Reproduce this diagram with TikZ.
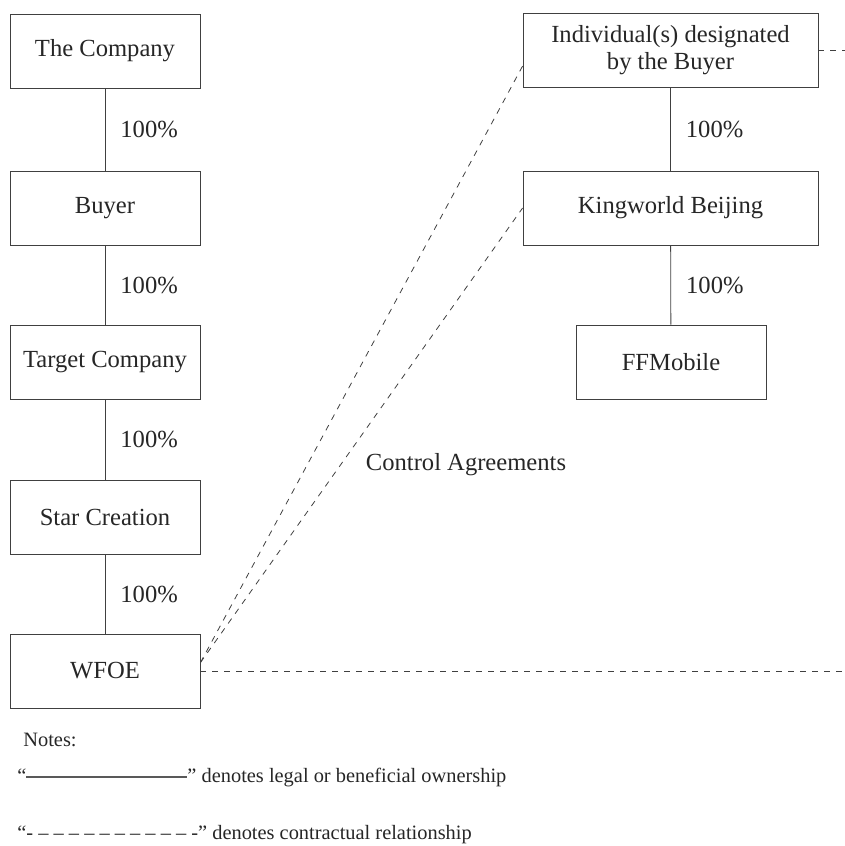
\documentclass[tikz,border=0pt]{standalone}
\usepackage{fontspec}
\setmainfont{Liberation Serif}
\def\boxwd{95pt}
\def\boxht{37pt}
\usepackage{tikz}

\begin{document}
\begin{tikzpicture}[x=0.5pt,y=-0.5pt,draw=black!75,text=black!85]
            \tikzstyle{entity}=[draw,minimum width=\boxwd,minimum height=\boxht,inner sep=0pt,align=center,font=\fontsize{12.3}{13.6}\selectfont]
            \tikzstyle{share}=[anchor=west,inner sep=0pt,xshift=7.5pt,font=\fontsize{12.3}{13.6}\selectfont]
            \tikzstyle{contract}=[dashed]
            \tikzstyle{note}=[anchor=west,inner sep=0pt,font=\fontsize{10.2}{12}\selectfont]

            \useasboundingbox (0,0) rectangle (845,846);

            % Draw the left column of companies
            \foreach \name / \txt / \y in {Co/The Company/51, Buyer/Buyer/208, Target/Target Company/362, Star/Star Creation/517, WFOE/WFOE/671}
                \node[entity] (\name) at (105,\y) {\txt};

            % Draw the right column
            \node[entity, minimum width=147.5pt] (Ind) at (670.5,50.5) {Individual(s) designated\\by the Buyer};
            \node[entity, minimum width=147.5pt] (KW) at (670.5,208) {Kingworld Beijing};
            \node[entity] (FF) at (671,362) {FFMobile};

            % Ownership lines
            \foreach \source / \dest in {Co/Buyer, Buyer/Target, Target/Star, Star/WFOE, Ind/KW, KW/FF}
                \path[draw] (\source) edge node[share] {100\%} (\dest);

            % Contractual relationships
            \draw[contract] (WFOE.5) -- (Ind.186);
            \draw[contract] (WFOE.5) -- (KW.west);
            \coordinate (rimW) at (845,671);
            \coordinate (rimI) at (845,50.5);
            \draw[contract] (WFOE.east) -- (rimW);
            \draw[contract] (Ind.east) -- (rimI);
            \node[font=\fontsize{12.3}{13.6}\selectfont] (CA) at (466,465) {Control Agreements};

            % Notes
            \node[note] (N0) at (23,740) {Notes:};
            \node[note] (N1) at (17,778) {``\textcolor{black!65}{\rule[0.26em]{80.5pt}{0.9pt}}'' denotes legal or beneficial ownership};
            \node[note] (N2) at (17,835) {``-\ -- -- -- -- -- -- -- -- -- --\ -'' denotes contractual relationship};
\end{tikzpicture}
\end{document}
